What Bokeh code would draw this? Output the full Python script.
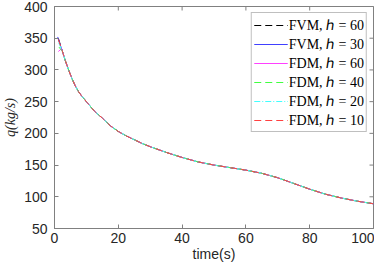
import math
from bokeh.plotting import figure
from bokeh.models import Legend, LegendItem, FixedTicker
from bokeh.embed import file_html
from bokeh.resources import INLINE

# shared part of the curve (all series coincide here)
t_common = [2.5, 3.5, 4.5, 5.5, 6.5, 7.5, 8.5, 10, 11, 12.5, 15, 17.5, 20, 22.5,
            25, 27.5, 30, 35, 40, 45, 50, 55, 60, 65, 70, 75, 80, 85, 90, 95, 100]
q_common = [329, 313, 299, 286, 275, 266, 259, 250, 244, 235, 224, 212, 203, 196,
            190, 184, 179, 170, 162, 155, 150, 146, 142, 137, 130, 121, 112, 104, 98, 93, 89]

# series-specific start points (time, q)
series_names = ["FVM, ℎ = 60", "FVM, ℎ = 30", "FDM, ℎ = 60",
                "FDM, ℎ = 40", "FDM, ℎ = 20", "FDM, ℎ = 10"]
start_t = [[1.2], [1.0], [1.2, 2.2], [1.4], [1.3], [1.2]]
start_q = [[350], [352], [329, 333.5], [336], [343], [348]]

x_range = (0, 100)
y_range = (50, 400)
x_ticks = [0, 20, 40, 60, 80, 100]
y_ticks = [50, 100, 150, 200, 250, 300, 350, 400]

colors = ["#000000", "#4040ff", "#ff40ff", "#40ff40", "#40ffff", "#ff4040"]
dashes = ["7 4", "solid", "solid", "7 4", "6 2 1 2", "7 4"]
widths = [1.0, 1.0, 1.0, 1.0, 1.0, 1.0]

p = figure(width=374, height=264, x_range=x_range, y_range=y_range,
           output_backend="svg", toolbar_location=None,
           min_border_left=52, min_border_right=1, min_border_top=6,
           min_border_bottom=0)
p.grid.visible = False
p.outline_line_color = "#808080"
p.background_fill_color = "white"
p.border_fill_color = "white"

axis_col = "#808080"
for ax in (p.xaxis[0], p.yaxis[0]):
    ax.major_tick_in = 4
    ax.major_tick_out = 0
    ax.minor_tick_in = 0
    ax.minor_tick_out = 0
    ax.axis_line_color = axis_col
    ax.major_tick_line_color = axis_col
    ax.major_label_text_font = "Liberation Sans"
    ax.major_label_text_font_size = "14px"
    ax.major_label_text_color = "#262626"
    ax.axis_label_text_font_size = "14px"
    ax.axis_label_text_color = "#262626"

p.xaxis.ticker = FixedTicker(ticks=x_ticks)
p.yaxis.ticker = FixedTicker(ticks=y_ticks)
p.xaxis.major_label_standoff = 4
p.yaxis.major_label_standoff = 7
p.xaxis.axis_label = "time(s)"
p.xaxis.axis_label_text_font = "Liberation Sans"
p.xaxis.axis_label_text_font_style = "normal"
p.xaxis.axis_label_standoff = 0
p.yaxis.axis_label = "q(kg/s)"
p.yaxis.axis_label_text_font = "Liberation Serif"
p.yaxis.axis_label_text_font_style = "italic"
p.yaxis.axis_label_standoff = 3

# inward ticks on the top and right frame edges (half of each dash is clipped)
p.scatter(x=x_ticks, y=[y_range[1]] * len(x_ticks), marker="dash", size=8,
          angle=math.pi / 2, line_color=axis_col, line_width=1)
p.scatter(x=[x_range[1]] * len(y_ticks), y=y_ticks, marker="dash", size=8,
          line_color=axis_col, line_width=1)

items = []
for name, st, sq, c, d, w in zip(series_names, start_t, start_q, colors, dashes, widths):
    r = p.line(st + t_common, sq + q_common, line_color=c, line_dash=d, line_width=w)
    items.append(LegendItem(label=name, renderers=[r]))

legend = Legend(items=items, location="top_right", margin=6,
                label_text_font="Liberation Serif", label_text_font_size="14px",
                label_text_line_height=1.0,
                label_text_color="black", glyph_width=34, glyph_height=12,
                label_height=12, label_standoff=1, spacing=-5, padding=2,
                border_line_color="#808080", background_fill_alpha=1.0)
p.add_layout(legend)

open("out.html", "w").write(file_html(p, INLINE))
